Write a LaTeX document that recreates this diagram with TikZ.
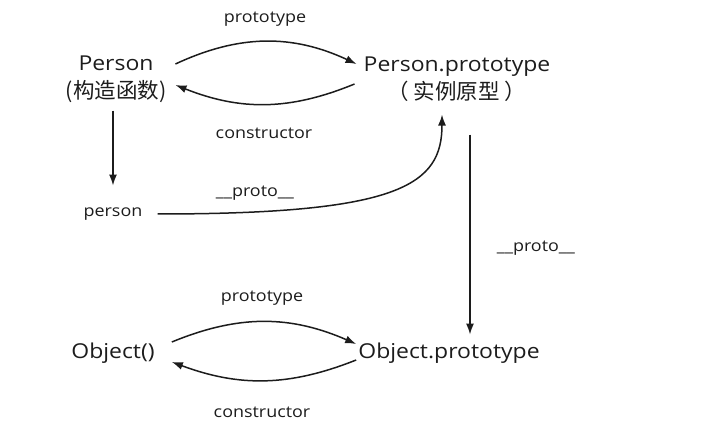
\documentclass[tikz,border=0pt]{standalone}
\usepackage{fontspec}
\setmainfont{Open Sans}[FakeStretch=1.12]
\newfontfamily\cjk{Noto Sans CJK SC}
\usetikzlibrary{arrows.meta, positioning, calc}
\definecolor{cInk}{RGB}{28,28,28}

\begin{document}
\begin{tikzpicture}[x=1pt, y=1pt, every node/.style={text=cInk, inner sep=0pt, align=center},
    big/.style={font=\fontsize{20.5}{28}\selectfont},
    lbl/.style={font=\fontsize{16}{18}\selectfont},
    arr/.style={draw=cInk, line width=1.5pt, -{Latex[length=11pt, width=8pt]}}]
  \useasboundingbox (0,0) rectangle (720,436);

  \node[big] (ctor) at (116,357) {Person\\{\cjk\fontsize{21.5}{28}\selectfont (构造函数)}};
  \node[big] (proto) at (457,357) {Person.prototype\\{\cjk\fontsize{21.5}{28}\selectfont （ 实例原型 ）}};
  \node[lbl] (inst) at (113,222) {person};
  \node[big] (obj) at (113,83) {Object()};
  \node[big] (oproto) at (449,83) {Object.prototype};

  % labels
  \node[lbl] (l1) at (265,417) {prototype};
  \node[lbl] (l2) at (264,303) {constructor};
  \node[lbl] (l3) at (255,243) {\_\_proto\_\_};
  \node[lbl] (l4) at (536,188) {\_\_proto\_\_};
  \node[lbl] (l5) at (262,138) {prototype};
  \node[lbl] (l6) at (262,24) {constructor};

  % Person <-> Person.prototype
  \draw[arr] ([shift={(9,15)}]ctor.east) to[bend left=25] ([shift={(-7,15)}]proto.west);
  \draw[arr] ([shift={(-9,-5)}]proto.west) to[bend left=22] ([shift={(9,-6)}]ctor.east);
  \draw[arr] ($(ctor.south -| inst.north)+(0,-8)$) -- ([yshift=22]inst.north);
  \draw[arr] ([xshift=15]inst.east) .. controls (400,222) and (442,251) .. ([shift={(-15,-13)}]proto.south);
  \draw[arr] ([shift={(13,-33)}]proto.south) -- ([shift={(21,8)}]oproto.north);

  % Object <-> Object.prototype
  \draw[arr] ([shift={(17,11)}]obj.east) to[bend left=23] ([shift={(-2,9)}]oproto.west);
  \draw[arr] ([shift={(-2,-7)}]oproto.west) to[bend left=21] ([shift={(17,-9)}]obj.east);
\end{tikzpicture}
\end{document}
